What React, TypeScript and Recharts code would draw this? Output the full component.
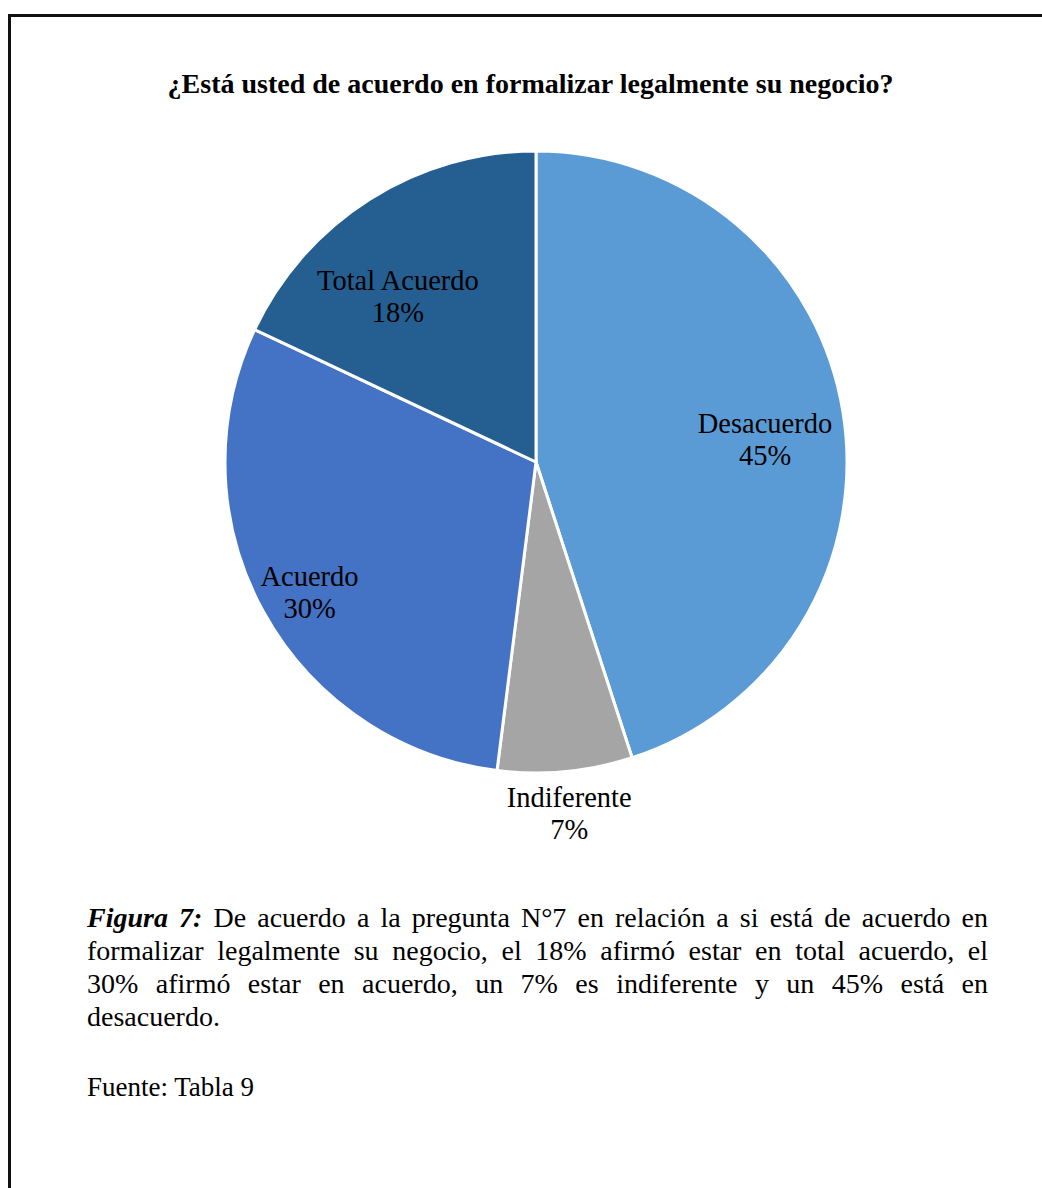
import React from "react";
import { PieChart, Pie, Cell } from "recharts";

const categories = ["Desacuerdo", "Indiferente", "Acuerdo", "Total Acuerdo"];
const percents = [45, 7, 30, 18];

const palette = ["#5B9BD5", "#A5A5A5", "#4472C4", "#255E91"];
// label placement: share of the radius, and a small turn (degrees, clockwise) off the slice middle
const labelRadius = [0.74, 1.134, 0.84, 0.695];
const labelTurn = [3.3, 0, -1.1, -7.3];

const captionLines = [
  "De acuerdo a la pregunta N°7 en relación a si está de acuerdo en",
  "formalizar legalmente su negocio, el 18% afirmó estar en total acuerdo, el",
  "30% afirmó estar en acuerdo, un 7% es indiferente y un 45% está en",
  "desacuerdo.",
];

const serif = '"Liberation Serif", "Times New Roman", serif';
const RAD = Math.PI / 180;

const data = categories.map((name, i) => ({ name, value: percents[i] }));

function renderLabel(props: any) {
  const { cx, cy, midAngle, outerRadius, index, name, value } = props;
  const r = outerRadius * labelRadius[index];
  const a = (midAngle - labelTurn[index]) * RAD;
  const x = cx + r * Math.cos(-a);
  const y = cy + r * Math.sin(-a);
  return (
    <text x={x} y={y} textAnchor="middle" fontFamily={serif} fontSize={28.5} fill="#000">
      <tspan x={x} dy={-6}>{name}</tspan>
      <tspan x={x} dy={32}>{value}%</tspan>
    </text>
  );
}

export default function App() {
  const lineStyle: React.CSSProperties = { textAlign: "justify", textAlignLast: "justify", whiteSpace: "nowrap" };
  return (
    <div style={{ position: "absolute", left: 0, top: 0, width: 1042, height: 1188, overflow: "hidden", background: "#fff" }}>
      <div
        style={{
          position: "absolute",
          left: 8,
          top: 14,
          width: 1100,
          height: 1300,
          borderTop: "3px solid #111",
          borderLeft: "3px solid #111",
        }}
      />
      <div
        style={{
          position: "absolute",
          left: 0,
          top: 66,
          width: 1061,
          textAlign: "center",
          fontFamily: serif,
          fontWeight: "bold",
          fontSize: 28,
          lineHeight: "36px",
        }}
      >
        ¿Está usted de acuerdo en formalizar legalmente su negocio?
      </div>
      <div style={{ position: "absolute", left: 0, top: 0 }}>
        <PieChart width={1042} height={880} margin={{ top: 0, right: 0, bottom: 0, left: 0 }}>
          <Pie
            data={data}
            dataKey="value"
            nameKey="name"
            cx={536}
            cy={462}
            outerRadius={311}
            startAngle={90}
            endAngle={-270}
            stroke="#fff"
            strokeWidth={3}
            label={renderLabel}
            labelLine={false}
            isAnimationActive={false}
          >
            {data.map((_, idx) => (
              <Cell key={idx} fill={palette[idx]} />
            ))}
          </Pie>
        </PieChart>
      </div>
      <div
        style={{
          position: "absolute",
          left: 87,
          top: 901,
          width: 901,
          fontFamily: serif,
          fontSize: 28,
          lineHeight: "33px",
          color: "#000",
        }}
      >
        {captionLines.map((line, i) => (
          <div key={i} style={i < captionLines.length - 1 ? lineStyle : { whiteSpace: "nowrap" }}>
            {i === 0 && (
              <>
                <b>
                  <i>Figura 7:</i>
                </b>{" "}
              </>
            )}
            {line}
          </div>
        ))}
      </div>
      <div
        style={{
          position: "absolute",
          left: 87,
          top: 1071,
          fontFamily: serif,
          fontSize: 27,
          lineHeight: "32px",
          color: "#000",
        }}
      >
        Fuente: Tabla 9
      </div>
    </div>
  );
}
